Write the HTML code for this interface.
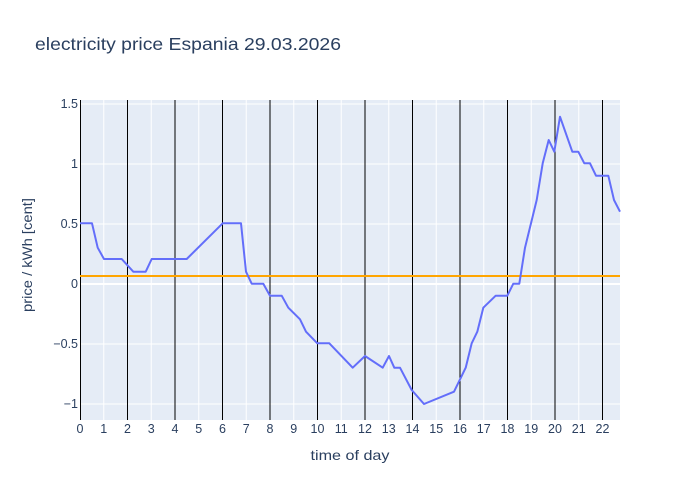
<!DOCTYPE html>
<html><head><style>body{margin:0;background:#fff}svg{display:block}text{font-family:"Liberation Sans",sans-serif;fill:#2a3f5f}</style></head><body>
<svg width="700" height="500" viewBox="0 0 700 500">
<rect width="700" height="500" fill="#fff"/>
<rect x="80" y="100" width="540" height="320" fill="#e5ecf6"/>
<g stroke="#fff" stroke-width="1">
<path d="M103.75 100V420M127.5 100V420M151.25 100V420M175 100V420M198.75 100V420M222.5 100V420M246.25 100V420M270 100V420M293.75 100V420M317.5 100V420M341.25 100V420M365 100V420M388.75 100V420M412.5 100V420M436.25 100V420M460 100V420M483.75 100V420M507.5 100V420M531.25 100V420M555 100V420M578.75 100V420M602.5 100V420"/>
<path d="M80 104H620M80 164H620M80 224H620M80 344H620M80 404H620"/>
<path d="M80 284H620" stroke-width="2"/>
</g>
<g stroke="#000" stroke-width="1">
<path d="M80.5 100V420M127.5 100V420M175 100V420M222.5 100V420M270 100V420M317.5 100V420M365 100V420M412.5 100V420M460 100V420M507.5 100V420M555 100V420M602.5 100V420"/>
</g>
<path d="M80 276H620" stroke="#ffa500" stroke-width="2"/>
<polyline fill="none" stroke="#636efa" stroke-width="2" stroke-linejoin="round" points="80,223.3 92,223.3 97.7,247.7 104,259 121.7,259 133.3,271.7 145.7,271.7 151.7,259 186.7,259 222.7,223.3 241,223.3 246,271.7 251.7,283.7 263.3,283.7 270,295.7 281.7,295.7 288.3,307.7 300,319.3 306,331.7 317.3,343.3 329.3,343.3 352.7,367.7 365,356 382.7,367.7 389,356 394.3,367.7 400,367.7 411.7,390 424,404 454,391.7 465.7,367.7 471.7,343.3 477.3,331.7 483.3,307.7 495.7,295.7 507.3,295.7 513.3,283.7 519.3,283.7 525,247.7 536.7,200 542.7,163.3 548.7,140 554.3,151.7 560,116.7 572.3,151.7 578.3,151.7 584.3,163.3 590,163.3 596,175.7 608.3,175.7 614,200 620,211.7"/>
<g font-size="12.5" text-anchor="end">
<text x="78" y="108">1.5</text><text x="78" y="168">1</text><text x="78" y="228">0.5</text><text x="78" y="288">0</text><text x="78" y="348">−0.5</text><text x="78" y="408">−1</text>
</g>
<g font-size="12.5" text-anchor="middle">
<text x="80" y="433">0</text><text x="103.75" y="433">1</text><text x="127.5" y="433">2</text><text x="151.25" y="433">3</text><text x="175" y="433">4</text><text x="198.75" y="433">5</text><text x="222.5" y="433">6</text><text x="246.25" y="433">7</text><text x="270" y="433">8</text><text x="293.75" y="433">9</text><text x="317.5" y="433">10</text><text x="341.25" y="433">11</text><text x="365" y="433">12</text><text x="388.75" y="433">13</text><text x="412.5" y="433">14</text><text x="436.25" y="433">15</text><text x="460" y="433">16</text><text x="483.75" y="433">17</text><text x="507.5" y="433">18</text><text x="531.25" y="433">19</text><text x="555" y="433">20</text><text x="578.75" y="433">21</text><text x="602.5" y="433">22</text>
</g>
<text x="310.5" y="460" font-size="14" textLength="79" lengthAdjust="spacingAndGlyphs">time of day</text>
<text transform="translate(32,312) rotate(-90)" font-size="14" textLength="114" lengthAdjust="spacingAndGlyphs">price / kWh [cent]</text>
<text x="35" y="50" font-size="17.5" textLength="306" lengthAdjust="spacingAndGlyphs">electricity price Espania 29.03.2026</text>
</svg>
</body></html>
